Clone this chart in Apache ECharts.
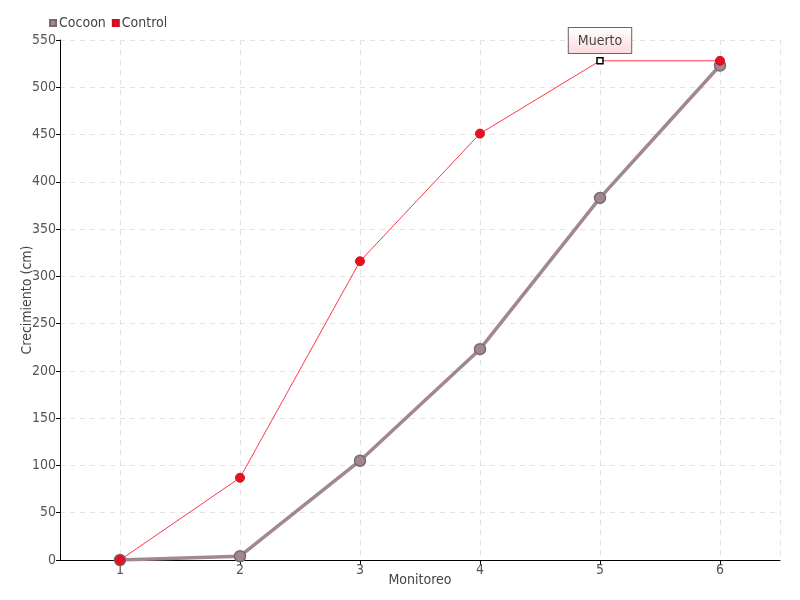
<!DOCTYPE html>
<html><head><meta charset="utf-8">
<script src="https://cdn.jsdelivr.net/npm/echarts@6/dist/echarts.min.js"></script>
<style>html,body{margin:0;padding:0;background:#fff}#c{width:800px;height:600px}</style>
</head><body><div id="c"></div>
<script>
var categories = [1, 2, 3, 4, 5, 6];
var cocoon = [0, 4, 105, 223, 383, 523];
var control = [0, 87, 316, 451, 528, 528];
var markerIndex = 4;
var markerText = 'Muerto';
var yTicks = {min: 0, max: 550, interval: 50};

var font = '"Liberation Sans Narrow", "DejaVu Sans Condensed", sans-serif';
var chart = echarts.init(document.getElementById('c'));
var cocoonData = cocoon.map(function (v, i) { return [categories[i], v]; });
var controlData = control.map(function (v, i) {
  if (i === markerIndex) {
    return {
      value: [categories[i], v],
      symbol: 'rect', symbolSize: 6,
      itemStyle: {color: '#fff', borderColor: '#000', borderWidth: 1.5},
      label: {
        show: true, position: 'top', distance: 4, formatter: markerText,
        fontFamily: font, fontSize: 14, color: '#444',
        backgroundColor: {type: 'linear', x: 0, y: 0, x2: 0, y2: 1,
          colorStops: [{offset: 0, color: '#fff'}, {offset: 1, color: '#fcd8dc'}]},
        borderColor: '#666', borderWidth: 1, padding: [6, 9, 5, 9]
      }
    };
  }
  return [categories[i], v];
});
chart.setOption({
  animation: false,
  textStyle: {fontFamily: font},
  legend: {
    left: 44, top: 11, itemWidth: 6, itemHeight: 6, itemGap: 6,
    icon: 'rect',
    textStyle: {fontFamily: font, fontSize: 14, color: '#444', padding: [0, 0, 0, -2]},
    data: ['Cocoon', 'Control']
  },
  grid: {left: 60, right: 20, top: 40, bottom: 40},
  xAxis: {
    type: 'value', min: categories[0] - 0.5, max: categories[categories.length - 1] + 0.5,
    name: 'Monitoreo', nameLocation: 'middle', nameGap: 13, nameMoveOverlap: false,
    nameTextStyle: {fontFamily: font, fontSize: 14, color: '#444'},
    axisLine: {lineStyle: {color: '#000', width: 1}},
    axisTick: {show: true, length: 5, lineStyle: {color: '#000'}},
    axisLabel: {fontFamily: font, fontSize: 14, color: '#555', margin: 3,
      showMinLabel: false, showMaxLabel: false,
      formatter: function (v) { return categories.indexOf(v) >= 0 ? String(v) : ''; }},
    splitLine: {show: true, lineStyle: {color: '#e2e2e2', type: [5, 5]}}
  },
  yAxis: {
    type: 'value', min: yTicks.min, max: yTicks.max, interval: yTicks.interval,
    name: 'Crecimiento (cm)', nameLocation: 'middle', nameGap: 26, nameMoveOverlap: false,
    nameTextStyle: {fontFamily: font, fontSize: 14, color: '#444'},
    axisLine: {show: true, lineStyle: {color: '#000', width: 1}},
    axisTick: {show: true, length: 4, inside: false, lineStyle: {color: '#000'}},
    axisLabel: {fontFamily: font, fontSize: 14, color: '#555', margin: 4},
    splitLine: {show: true, lineStyle: {color: '#e2e2e2', type: [5, 5]}}
  },
  series: [
    {
      name: 'Cocoon', type: 'line', data: cocoonData,
      symbol: 'circle', symbolSize: 11, showAllSymbol: true,
      lineStyle: {color: '#a08890', width: 3.5},
      itemStyle: {color: '#a08890', borderColor: '#7e6670', borderWidth: 1.5},
      z: 2
    },
    {
      name: 'Control', type: 'line', data: controlData,
      symbol: 'circle', symbolSize: 9, showAllSymbol: true,
      lineStyle: {color: '#ff3548', width: 1},
      itemStyle: {color: '#e8101e', borderColor: '#d0101e', borderWidth: 1},
      z: 3
    }
  ]
});
</script>
</body></html>
